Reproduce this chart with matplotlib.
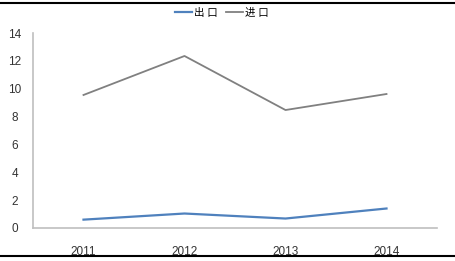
import matplotlib
matplotlib.use("Agg")
import matplotlib.pyplot as plt
from matplotlib.lines import Line2D

plt.rcParams['font.family'] = ['Liberation Sans', 'Noto Sans CJK SC', 'DejaVu Sans']

years = ['2011', '2012', '2013', '2014']
export_vals = [0.6, 1.04, 0.68, 1.4]
import_vals = [9.55, 12.35, 8.47, 9.62]
yticks = [0, 2, 4, 6, 8, 10, 12, 14]
series_names = ['出 口', '进 口']

fig = plt.figure(figsize=(4.55, 2.61), dpi=100)
ax = fig.add_axes([33/455, 1-228/261, (437-33)/455, (228-33)/261])

x = range(len(years))
ax.plot(x, export_vals, color='#4F81BD', lw=1.6, label=series_names[0])
ax.plot(x, import_vals, color='#808080', lw=1.3, label=series_names[1])

ax.set_xlim(-0.5, 3.5)
ax.set_ylim(0, 14)
ax.set_yticks(yticks)
ax.set_xticks(list(x))
ax.set_xticklabels(years)
for s in ['top', 'right']:
    ax.spines[s].set_visible(False)
for s in ['left', 'bottom']:
    ax.spines[s].set_color('#BFBFBF')
    ax.spines[s].set_linewidth(1.2)
ax.tick_params(axis='both', length=0, labelsize=8.5, colors='#333333')
ax.tick_params(axis='x', pad=13)
ax.tick_params(axis='y', pad=13)
for lab in ax.get_yticklabels():
    lab.set_horizontalalignment('center')

leg = fig.legend(loc='center', bbox_to_anchor=(222/455, 1-13/261), ncol=2, frameon=False,
                 fontsize=7.5, handlelength=1.6, handletextpad=0.2, columnspacing=0.8)

# border lines top and bottom
fig.add_artist(Line2D([0, 1], [1-2.5/261, 1-2.5/261], color='black', lw=1.5, transform=fig.transFigure))
fig.add_artist(Line2D([0, 1], [1-255.5/261, 1-255.5/261], color='black', lw=1.5, transform=fig.transFigure))

fig.savefig('out.png', dpi=100)
